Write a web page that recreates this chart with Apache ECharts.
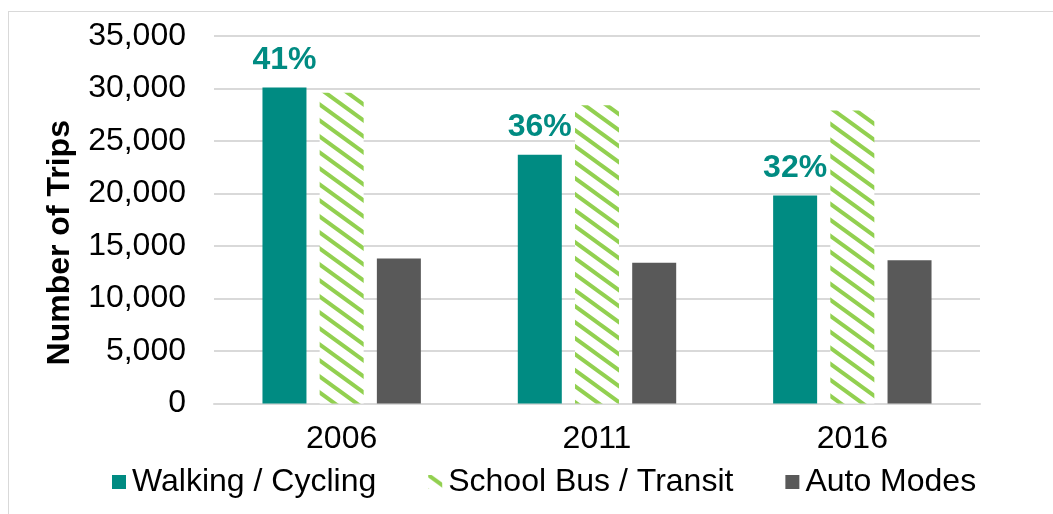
<!DOCTYPE html>
<html lang="en">
<head>
    <meta charset="UTF-8">
    <title>Number of Trips</title>
    <script type="text/javascript" src="https://cdn.jsdelivr.net/npm/echarts@6/dist/echarts.min.js"></script>
    <style>
        body { margin:0; background:#fff; }
        #frame { position:absolute; left:8px; top:11px; width:1100px; height:600px; border:1px solid #d9d9d9; }
        #chart { position:absolute; left:0; top:0; width:1053px; height:514px; }
    </style>
</head>
<body>
<div id="frame"></div>
<div id="chart"></div>
<script type="text/javascript">
    var years = ['2006', '2011', '2016'];
    var walking = [30100, 23700, 19800];
    var schoolBus = [29600, 28400, 27900];
    var auto = [13800, 13400, 13650];
    var walkPct = ['41%', '36%', '32%'];

    // hatched fill for school bus / transit
    function hatch() {
        var c = document.createElement('canvas');
        c.width = 22; c.height = 16;
        var ctx = c.getContext('2d');
        ctx.fillStyle = '#fff';
        ctx.fillRect(0, 0, 22, 16);
        ctx.strokeStyle = '#92d050';
        ctx.lineWidth = 4;
        for (var k = -2; k <= 2; k++) {
            ctx.beginPath();
            ctx.moveTo(-22, -16 + k * 16);
            ctx.lineTo(44, 32 + k * 16);
            ctx.stroke();
        }
        return c;
    }

    var font = 'Liberation Sans, Arial, sans-serif';
    var chart = echarts.init(document.getElementById('chart'));
    chart.setOption({
        animation: false,
        textStyle: { fontFamily: font },
        grid: { left: 214, right: 73, top: 36, bottom: 110.5 },
        legend: {
            left: 107, top: 461,
            itemWidth: 14, itemHeight: 14, itemGap: 52,
            icon: 'rect',
            textStyle: { fontSize: 32, color: '#000', fontFamily: font, padding: [0, 0, 0, 1] },
            data: ['Walking / Cycling', 'School Bus / Transit', 'Auto Modes']
        },
        xAxis: {
            type: 'category',
            data: years,
            axisLine: { lineStyle: { color: '#d9d9d9', width: 2 } },
            axisTick: { show: false },
            axisLabel: { fontSize: 32, color: '#000', margin: 20 }
        },
        yAxis: {
            type: 'value',
            min: 0, max: 35000, interval: 5000,
            name: 'Number of Trips',
            nameLocation: 'middle',
            nameGap: 138,
            nameTextStyle: { fontSize: 32, fontWeight: 'bold', color: '#000', padding: [0, 46, 0, 0] },
            axisLabel: {
                fontSize: 32, color: '#000', margin: 28,
                formatter: function (v) { return v.toLocaleString('en-US'); }
            },
            splitLine: { lineStyle: { color: '#d9d9d9', width: 2 } }
        },
        series: [
            {
                name: 'Walking / Cycling', type: 'bar', data: walking,
                barWidth: 44, barGap: '30%',
                itemStyle: { color: '#008b82' },
                label: {
                    show: true, position: 'top', distance: 11,
                    fontSize: 32, fontWeight: 'bold', color: '#008b82',
                    formatter: function (p) { return walkPct[p.dataIndex]; }
                }
            },
            {
                name: 'School Bus / Transit', type: 'bar', data: schoolBus,
                barWidth: 44, barGap: '30%',
                itemStyle: { color: { image: hatch(), repeat: 'repeat' } }
            },
            {
                name: 'Auto Modes', type: 'bar', data: auto,
                barWidth: 44, barGap: '30%',
                itemStyle: { color: '#595959' }
            }
        ]
    });
</script>
</body>
</html>
